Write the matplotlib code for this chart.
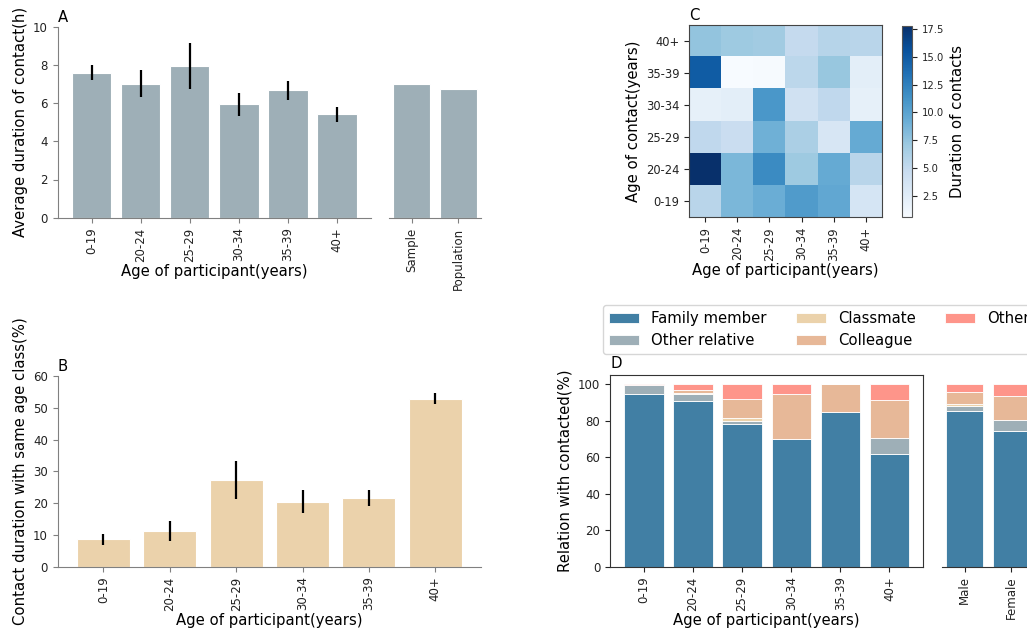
import matplotlib
matplotlib.use("Agg")
import matplotlib.pyplot as plt
import numpy as np

W, H = 1027, 633
DPI = 100

ages = ["0-19", "20-24", "25-29", "30-34", "35-39", "40+"]

# Panel A
a_mean = [7.59, 7.02, 7.94, 5.94, 6.68, 5.41]
a_err = [0.40, 0.69, 1.20, 0.60, 0.50, 0.38]
a_groups = ["Sample", "Population"]
a_group_vals = [7.02, 6.74]

# Panel B
b_mean = [8.6, 11.2, 27.3, 20.5, 21.7, 52.9]
b_err = [1.8, 3.1, 6.1, 3.7, 2.5, 1.8]

# Panel C (rows = age of contact, from 0-19 up to 40+; columns = age of participant)
c_matrix = [
    [5.6, 8.5, 9.2, 10.6, 9.7, 3.5],     # 0-19
    [17.8, 8.5, 11.8, 7.0, 9.5, 5.6],    # 20-24
    [5.2, 4.5, 9.0, 6.3, 3.3, 9.5],      # 25-29
    [2.0, 2.3, 10.9, 4.0, 5.2, 2.0],     # 30-34
    [14.9, 0.58, 0.65, 5.4, 7.3, 2.3],   # 35-39
    [7.5, 7.0, 6.8, 4.9, 5.7, 5.6],      # 40+
]

# Panel D
relations = ["Family member", "Other relative", "Classmate", "Colleague", "Other"]
d_family = [95.0, 90.8, 78.5, 70.1, 85.0, 62.0]
d_relative = [4.5, 3.7, 1.3, 0.0, 0.0, 8.8]
d_classmate = [0.0, 0.7, 1.9, 0.0, 0.0, 0.0]
d_colleague = [0.0, 1.5, 10.4, 24.4, 15.0, 20.4]
d_other = [0.5, 3.3, 7.9, 5.5, 0.0, 8.8]
sexes = ["Male", "Female"]
s_family = [85.3, 74.5]
s_relative = [2.6, 5.9]
s_classmate = [1.1, 0.3]
s_colleague = [7.1, 12.9]
s_other = [3.9, 6.4]

c_fam = "#417fa4"
c_rel = "#9eafb7"
c_cls = "#ebd2ab"
c_col = "#e7b898"
c_oth = "#fe958a"
rel_colors = [c_fam, c_rel, c_cls, c_col, c_oth]

LAB = 10.7
TICK = 8.5

fig = plt.figure(figsize=(W / DPI, H / DPI), dpi=DPI)


def ax_px(l, t, r, b):
    return fig.add_axes([l / W, 1 - b / H, (r - l) / W, (b - t) / H])


def style_light(ax, left=True):
    for s in ["top", "right"]:
        ax.spines[s].set_visible(False)
    ax.spines["left"].set_visible(left)
    for s in ["left", "bottom"]:
        ax.spines[s].set_color("#808080")
    ax.tick_params(labelsize=TICK, colors="#222222")
    ax.tick_params(axis="both", color="#808080")


# ---------- Panel A ----------
axA = ax_px(57.7, 26.7, 371, 217.7)
xa = np.arange(len(ages))
axA.bar(xa, a_mean, width=0.8, color=c_rel, edgecolor="white", linewidth=0.8)
axA.errorbar(xa, a_mean, yerr=a_err, fmt="none", ecolor="black", elinewidth=1.6)
axA.set_ylim(0, 10)
axA.set_xticks(xa)
axA.set_xticklabels(ages, rotation=90)
axA.set_ylabel("Average duration of contact(h)", fontsize=LAB)
axA.set_xlabel("Age of participant(years)", fontsize=LAB, labelpad=2)
style_light(axA)
axA.text(0.0, 1.01, "A", transform=axA.transAxes, fontsize=LAB, ha="left", va="bottom")

axA2 = ax_px(389, 26.7, 481, 217.7)
xg = np.arange(len(a_groups))
axA2.bar(xg, a_group_vals, width=0.8, color=c_rel, edgecolor="white", linewidth=0.8)
axA2.set_ylim(0, 10)
axA2.set_xticks(xg)
axA2.set_xticklabels(a_groups, rotation=90)
axA2.set_yticks([])
style_light(axA2, left=False)

# ---------- Panel B ----------
axB = ax_px(57.7, 376, 481, 566.7)
axB.bar(xa, b_mean, width=0.8, color=c_cls, edgecolor="white", linewidth=0.8)
axB.errorbar(xa, b_mean, yerr=b_err, fmt="none", ecolor="black", elinewidth=1.6)
axB.set_ylim(0, 60)
axB.set_xticks(xa)
axB.set_xticklabels(ages, rotation=90)
axB.set_ylabel("Contact duration with same age class(%)", fontsize=LAB)
axB.set_xlabel("Age of participant(years)", fontsize=LAB, labelpad=2)
style_light(axB)
axB.text(0.0, 1.01, "B", transform=axB.transAxes, fontsize=LAB, ha="left", va="bottom")

# ---------- Panel C ----------
axC = ax_px(689.3, 25, 881.7, 217.3)
im = axC.imshow(np.array(c_matrix), cmap="Blues", origin="lower", aspect="auto")
axC.set_xticks(np.arange(len(ages)))
axC.set_xticklabels(ages, rotation=90)
axC.set_yticks(np.arange(len(ages)))
axC.set_yticklabels(ages)
axC.tick_params(labelsize=8.3, colors="#222222")
for s in axC.spines.values():
    s.set_color("#444444")
axC.set_xlabel("Age of participant(years)", fontsize=LAB, labelpad=2)
axC.set_ylabel("Age of contact(years)", fontsize=LAB)
axC.text(0.0, 1.01, "C", transform=axC.transAxes, fontsize=LAB, ha="left", va="bottom")

cax = ax_px(901.7, 25.7, 912.3, 217.3)
cb = fig.colorbar(im, cax=cax)
cb.set_ticks([2.5, 5.0, 7.5, 10.0, 12.5, 15.0, 17.5])
cb.ax.tick_params(labelsize=7.2, colors="#222222")
cb.outline.set_edgecolor("#555555")
cb.set_label("Duration of contacts", fontsize=LAB)

# ---------- Panel D ----------
axD = ax_px(610, 375.3, 923.3, 566.7)
xd = np.arange(len(ages))
d_series = [d_family, d_relative, d_classmate, d_colleague, d_other]
bottom = np.zeros(len(ages))
handles = []
for name, vals, col in zip(relations, d_series, rel_colors):
    h = axD.bar(xd, vals, bottom=bottom, width=0.8, color=col, edgecolor="white",
                linewidth=0.6, label=name)
    handles.append(h)
    bottom = bottom + np.array(vals)
axD.set_ylim(0, 105)
axD.set_xticks(xd)
axD.set_xticklabels(ages, rotation=90)
axD.set_ylabel("Relation with contacted(%)", fontsize=LAB)
axD.set_xlabel("Age of participant(years)", fontsize=LAB, labelpad=2)
axD.tick_params(labelsize=TICK, colors="#222222")
for s in axD.spines.values():
    s.set_color("#333333")
axD.text(0.0, 1.02, "D", transform=axD.transAxes, fontsize=LAB, ha="left", va="bottom")

axD2 = ax_px(941.7, 375.3, 1034, 566.7)
xs = np.arange(len(sexes))
s_series = [s_family, s_relative, s_classmate, s_colleague, s_other]
bottom = np.zeros(len(sexes))
for name, vals, col in zip(relations, s_series, rel_colors):
    axD2.bar(xs, vals, bottom=bottom, width=0.8, color=col, edgecolor="white", linewidth=0.6)
    bottom = bottom + np.array(vals)
axD2.set_ylim(0, 105)
axD2.set_xticks(xs)
axD2.set_xticklabels(sexes, rotation=90)
axD2.set_yticks([])
for s in ["top", "right", "left"]:
    axD2.spines[s].set_visible(False)
axD2.spines["bottom"].set_color("#333333")
axD2.tick_params(labelsize=TICK, colors="#222222")

fig.legend(handles=handles, labels=relations, ncol=3, loc="upper left",
           bbox_to_anchor=(603.3 / W, 1 - 305 / H), fontsize=LAB,
           frameon=True, borderaxespad=0, columnspacing=2.0)

fig.savefig("out.png", dpi=DPI)
